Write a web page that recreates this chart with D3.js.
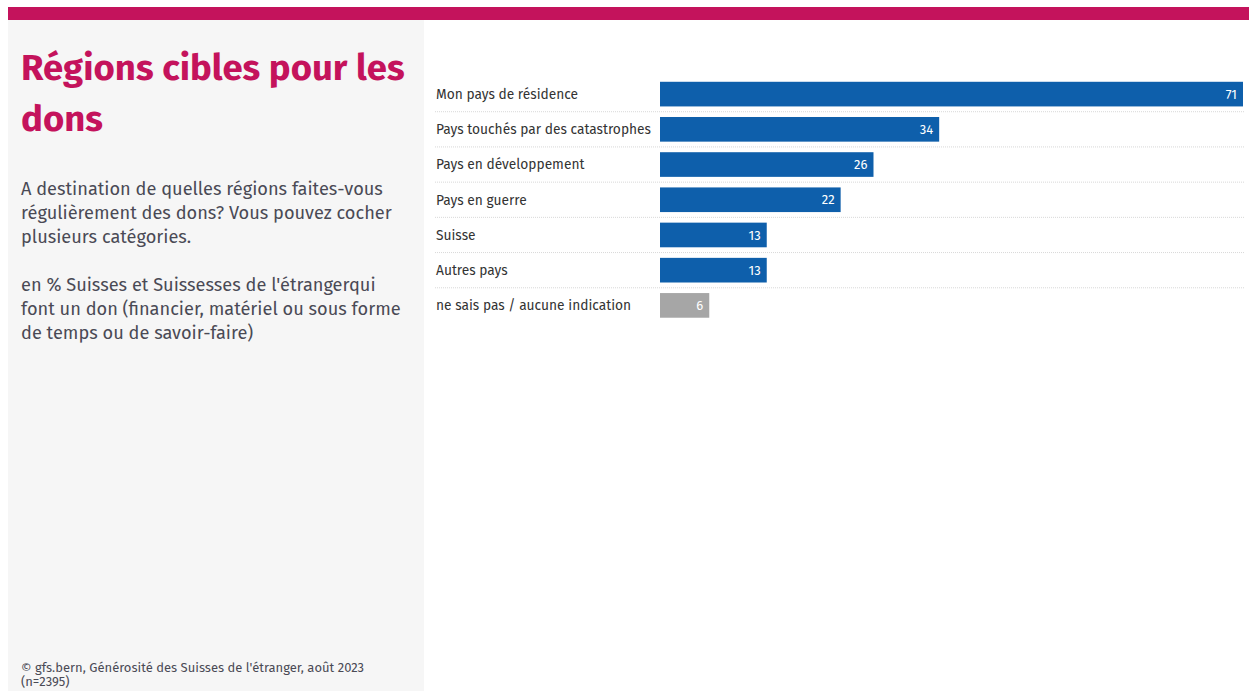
<!DOCTYPE html>
<html><head><meta charset="utf-8">
<script src="https://cdn.jsdelivr.net/npm/d3@7"></script>
<style>
html,body{margin:0;padding:0;background:#fff;}
svg{display:block;}
</style></head>
<body>
<svg id="c" width="1249" height="691"></svg>
<script>
const categories = ["Mon pays de résidence","Pays touchés par des catastrophes","Pays en développement","Pays en guerre","Suisse","Autres pays","ne sais pas / aucune indication"];
const values = [71,34,26,22,13,13,6];
const colors = ["#0e5fab","#0e5fab","#0e5fab","#0e5fab","#0e5fab","#0e5fab","#a6a6a6"];
const titleLines = ["Régions cibles pour les","dons"];
const subtitle1 = ["A destination de quelles régions faites-vous","régulièrement des dons? Vous pouvez cocher","plusieurs catégories."];
const subtitle2 = ["en % Suisses et Suissesses de l'étrangerqui","font un don (financier, matériel ou sous forme","de temps ou de savoir-faire)"];
const sourceLines = ["© gfs.bern, Générosité des Suisses de l'étranger, août 2023","(n=2395)"];

const font = "'Fira Sans','Noto Sans',sans-serif";
const svg = d3.select("#c");
svg.append("rect").attr("x",8).attr("y",20).attr("width",416).attr("height",671).attr("fill","#f6f6f6");
svg.append("rect").attr("x",8).attr("y",7).attr("width",1241).attr("height",13).attr("fill","#c4135c");

const tt = svg.append("text").attr("font-family",font).attr("font-weight",700).attr("font-size",36.5).attr("fill","#c4135c");
titleLines.forEach((t,i)=>tt.append("tspan").attr("x",21).attr("y",80+i*51).text(t));
const s1 = svg.append("text").attr("font-family",font).attr("font-size",18.2).attr("fill","#4a4a55");
subtitle1.forEach((t,i)=>s1.append("tspan").attr("x",21).attr("y",195+i*24).text(t));
const s2 = svg.append("text").attr("font-family",font).attr("font-size",18.2).attr("fill","#4a4a55");
subtitle2.forEach((t,i)=>s2.append("tspan").attr("x",21).attr("y",291+i*24).text(t));
const src = svg.append("text").attr("font-family",font).attr("font-size",13).attr("fill","#4a4a55");
sourceLines.forEach((t,i)=>src.append("tspan").attr("x",21).attr("y",672+i*14).text(t));

const x = d3.scaleLinear().domain([0,71]).range([660,1243]);
const y = d3.scaleBand().domain(categories).range([76.5,323]).paddingInner(0.3).paddingOuter(0.15);
const step = y.step();
const g = svg.append("g");
categories.slice(0,-1).forEach(c=>{
  const yy = y(c)+y.bandwidth()+(step-y.bandwidth())/2;
  g.append("line").attr("x1",435).attr("x2",1245).attr("y1",yy).attr("y2",yy)
   .attr("stroke","#d8d8d8").attr("stroke-width",1).attr("stroke-dasharray","1,1");
});
g.selectAll("rect.bar").data(values).join("rect").attr("class","bar")
  .attr("x",x(0)).attr("y",(d,i)=>y(categories[i])).attr("width",d=>x(d)-x(0)).attr("height",y.bandwidth())
  .attr("fill",(d,i)=>colors[i]);
g.selectAll("text.lab").data(categories).join("text").attr("class","lab")
  .attr("x",436).attr("y",d=>y(d)+y.bandwidth()/2).attr("dy","0.35em")
  .attr("font-family",font).attr("font-size",13.75).attr("fill","#333").text(d=>d);
g.selectAll("text.val").data(values).join("text").attr("class","val")
  .attr("x",d=>x(d)-6).attr("y",(d,i)=>y(categories[i])+y.bandwidth()/2).attr("dy","0.35em")
  .attr("text-anchor","end").attr("font-family",font).attr("font-size",13).attr("fill","#fff").text(d=>d);
</script>
</body></html>
